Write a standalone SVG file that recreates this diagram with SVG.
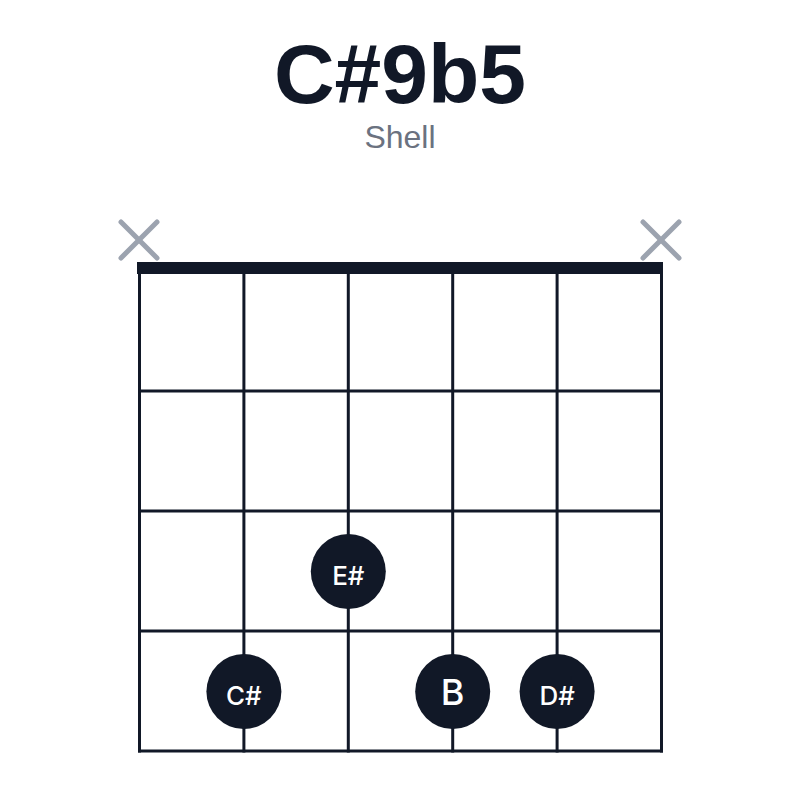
<svg xmlns="http://www.w3.org/2000/svg" width="800" height="800" viewBox="0 0 800 800">
  <style>
    .title { font-family: "Liberation Sans", Arial, sans-serif; font-weight: bold; font-size: 84px; fill: #111827; text-anchor: middle; }
    .sub { font-family: "Liberation Sans", Arial, sans-serif; font-size: 32px; fill: #6b7280; text-anchor: middle; }
    .str, .fret { stroke: #111827; stroke-width: 3; fill: none; }
    .mute { stroke: #9ca3af; stroke-width: 5; stroke-linecap: round; fill: none; }
    .dot { fill: #111827; }
    .lbl { font-family: Inter, "Liberation Sans", Arial, sans-serif; font-weight: 500; font-size: 26px; fill: #ffffff; text-anchor: middle; }
    .lbl.big { font-size: 36px; }
  </style>
  <rect width="800" height="800" fill="#ffffff"/>
  <text class="title" x="400" y="103">C#9b5</text>
  <text class="sub" x="400" y="148">Shell</text>

  <g id="connectors">
    <line class="str" x1="139.5" y1="268" x2="139.5" y2="752.5"/>
    <line class="str" x1="243.9" y1="268" x2="243.9" y2="752.5"/>
    <line class="str" x1="348.3" y1="268" x2="348.3" y2="752.5"/>
    <line class="str" x1="452.7" y1="268" x2="452.7" y2="752.5"/>
    <line class="str" x1="557.1" y1="268" x2="557.1" y2="752.5"/>
    <line class="str" x1="661.5" y1="268" x2="661.5" y2="752.5"/>
    <line class="fret" x1="138" y1="391" x2="663" y2="391"/>
    <line class="fret" x1="138" y1="511" x2="663" y2="511"/>
    <line class="fret" x1="138" y1="631" x2="663" y2="631"/>
    <line class="fret" x1="138" y1="751" x2="663" y2="751"/>
    <rect id="nut" x="137" y="262" width="526" height="12" fill="#111827"/>
  </g>

  <g id="mute-1">
    <path class="mute" d="M121 222 L157 258 M157 222 L121 258"/>
  </g>
  <g id="mute-6">
    <path class="mute" d="M643 222 L679 258 M679 222 L643 258"/>
  </g>

  <g id="note-E#">
    <circle class="dot" cx="348.3" cy="571.5" r="37.5"/>
    <text class="lbl" x="348.3" y="584.5">E#</text>
  </g>
  <g id="note-C#">
    <circle class="dot" cx="243.9" cy="691.5" r="37.5"/>
    <text class="lbl" x="243.9" y="704.5">C#</text>
  </g>
  <g id="note-B">
    <circle class="dot" cx="452.7" cy="691.5" r="37.5"/>
    <text class="lbl big" x="452.7" y="704.5">B</text>
  </g>
  <g id="note-D#">
    <circle class="dot" cx="557.1" cy="691.5" r="37.5"/>
    <text class="lbl" x="557.1" y="704.5">D#</text>
  </g>
</svg>
